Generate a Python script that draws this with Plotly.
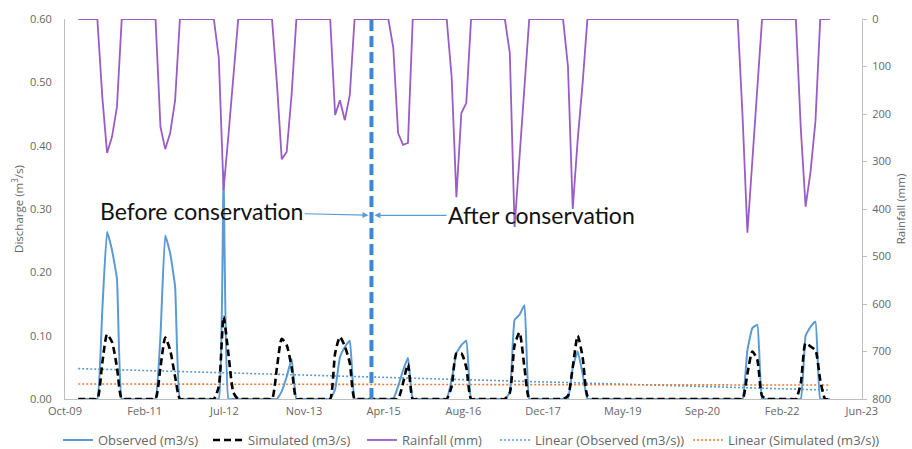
import pandas as pd
import plotly.graph_objects as go

# ---------------- data (monthly, Jan 2010 - Dec 2022) ----------------
months = pd.date_range("2010-01-01", periods=156, freq="MS")

# Rainfall (mm), one row per year Jan..Dec
rainfall_mm = (
    [0, 0, 0, 0, 0, 164, 282, 248, 185, 0, 0, 0] +   # 2010
    [0, 0, 0, 0, 0, 227, 274, 240, 171, 0, 0, 0] +   # 2011
    [0, 0, 0, 0, 0, 82, 360, 243, 117, 0, 0, 0] +    # 2012
    [0, 0, 0, 0, 0, 137, 295, 280, 159, 0, 0, 0] +   # 2013
    [0, 0, 0, 0, 0, 202, 171, 213, 160, 0, 0, 0] +   # 2014
    [0, 0, 0, 0, 0, 61, 240, 265, 261, 0, 0, 0] +    # 2015
    [0, 0, 0, 0, 0, 122, 375, 198, 177, 0, 0, 0] +   # 2016
    [0, 0, 0, 0, 0, 72, 438, 291, 146, 0, 0, 0] +    # 2017
    [0, 0, 0, 0, 0, 100, 400, 254, 135, 0, 0, 0] +   # 2018
    [0, 0, 0, 0, 0, 0, 0, 0, 0, 0, 0, 0] +           # 2019
    [0, 0, 0, 0, 0, 0, 0, 0, 0, 0, 0, 0] +           # 2020
    [0, 0, 0, 0, 0, 208, 450, 298, 138, 0, 0, 0] +   # 2021
    [0, 0, 0, 0, 0, 231, 395, 322, 215, 0, 0, 0]     # 2022
)

# Observed discharge (m3/s)
observed = (
    [0, 0, 0, 0, 0, 0.14, 0.264, 0.235, 0.19, 0, 0, 0] +      # 2010
    [0, 0, 0, 0, 0, 0.10, 0.258, 0.23, 0.177, 0, 0, 0] +      # 2011
    [0, 0, 0, 0, 0, 0, 0.36, 0, 0, 0, 0, 0] +                 # 2012
    [0, 0, 0, 0, 0, 0, 0.012, 0.035, 0.063, 0, 0, 0] +        # 2013
    [0, 0, 0, 0, 0, 0.015, 0.066, 0.082, 0.092, 0, 0, 0] +    # 2014
    [0, 0, 0, 0, 0, 0, 0.02, 0.045, 0.065, 0, 0, 0] +         # 2015
    [0, 0, 0, 0, 0, 0.03, 0.072, 0.085, 0.092, 0, 0, 0] +     # 2016
    [0, 0, 0, 0, 0, 0.01, 0.125, 0.133, 0.148, 0, 0, 0] +     # 2017
    [0, 0, 0, 0, 0, 0, 0.05, 0.075, 0.04, 0, 0, 0] +          # 2018
    [0, 0, 0, 0, 0, 0, 0, 0, 0, 0, 0, 0] +                    # 2019
    [0, 0, 0, 0, 0, 0, 0, 0, 0, 0, 0, 0] +                    # 2020
    [0, 0, 0, 0, 0, 0, 0.077, 0.112, 0.117, 0, 0, 0] +        # 2021
    [0, 0, 0, 0, 0, 0, 0.10, 0.114, 0.122, 0, 0, 0]           # 2022
)

# Simulated discharge (m3/s)
simulated = (
    [0, 0, 0, 0, 0, 0.057, 0.102, 0.09, 0.05, 0, 0, 0] +      # 2010
    [0, 0, 0, 0, 0, 0.05, 0.097, 0.077, 0.035, 0, 0, 0] +     # 2011
    [0, 0, 0, 0, 0, 0.02, 0.13, 0.07, 0.01, 0, 0, 0] +        # 2012
    [0, 0, 0, 0, 0, 0.05, 0.095, 0.085, 0.05, 0, 0, 0] +      # 2013
    [0, 0, 0, 0, 0, 0.072, 0.098, 0.083, 0.057, 0, 0, 0] +    # 2014
    [0, 0, 0, 0, 0, 0, 0, 0.025, 0.055, 0, 0, 0] +            # 2015
    [0, 0, 0, 0, 0, 0.02, 0.072, 0.072, 0.05, 0, 0, 0] +      # 2016
    [0, 0, 0, 0, 0, 0.01, 0.085, 0.105, 0.05, 0, 0, 0] +      # 2017
    [0, 0, 0, 0, 0, 0.005, 0.05, 0.1, 0.066, 0.005, 0, 0] +   # 2018
    [0, 0, 0, 0, 0, 0, 0, 0, 0, 0, 0, 0] +                    # 2019
    [0, 0, 0, 0, 0, 0, 0, 0, 0, 0, 0, 0] +                    # 2020
    [0, 0, 0, 0, 0, 0, 0.04, 0.075, 0.062, 0.005, 0, 0] +     # 2021
    [0, 0, 0, 0, 0, 0.025, 0.088, 0.083, 0.077, 0.03, 0, 0]   # 2022
)

# Linear trendlines (values at first and last month)
trend_dates = [months[0], months[-1]]
trend_observed = [0.048, 0.014]
trend_simulated = [0.0237, 0.022]

conservation_date = "2015-01-15"
x_range = ["2009-10-10", "2023-06-20"]
tick_start = "2009-10-10"
DAY_MS = 86400000

# ---------------- figure ----------------
GRAY = "#666666"
AXIS = "#BFBFBF"

fig = go.Figure()

fig.add_trace(go.Scatter(
    x=trend_dates, y=trend_observed, mode="lines",
    name="Linear (Observed (m3/s))", legend="legend4",
    line=dict(color="#5B9BD5", width=1.6, dash="2px,2px"),
))
fig.add_trace(go.Scatter(
    x=trend_dates, y=trend_simulated, mode="lines",
    name="Linear (Simulated (m3/s))", legend="legend5",
    line=dict(color="#ED7D31", width=1.6, dash="2px,2px"),
))
fig.add_trace(go.Scatter(
    x=months, y=observed, mode="lines", name="Observed (m3/s)", legend="legend",
    line=dict(color="#5B9BD5", width=2, shape="spline", smoothing=0.35),
))
fig.add_trace(go.Scatter(
    x=months, y=simulated, mode="lines", name="Simulated (m3/s)", legend="legend2",
    line=dict(color="#000000", width=2.6, dash="7px,4px", shape="spline", smoothing=0.6),
))
fig.add_trace(go.Scatter(
    x=months, y=rainfall_mm, mode="lines", name="Rainfall (mm)", legend="legend3",
    yaxis="y2", line=dict(color="#9A5CC6", width=1.8),
))

# conservation divider
fig.add_shape(type="line", xref="x", yref="paper",
              x0=conservation_date, x1=conservation_date, y0=0, y1=1,
              line=dict(color="#3A88D6", width=4, dash="11px,5px"))

ann_font = dict(family="Lato, 'Open Sans', sans-serif", size=23, color="#111111")
fig.add_annotation(x=conservation_date, y=0.29, xref="x", yref="y",
                   text="Before conservation", font=ann_font,
                   showarrow=True, ax=-170, ay=-4, arrowhead=2, arrowsize=1,
                   arrowwidth=1.2, arrowcolor="#5B9BD5", standoff=3)
fig.add_annotation(x=conservation_date, y=0.29, xref="x", yref="y",
                   text="After conservation", font=ann_font,
                   showarrow=True, ax=170, ay=0, arrowhead=2, arrowsize=1,
                   arrowwidth=1.2, arrowcolor="#5B9BD5", standoff=3)

tick_font = dict(family="'Open Sans', sans-serif", size=11, color=GRAY)
title_font = dict(family="'Open Sans', sans-serif", size=11.5, color=GRAY)
legend_font = dict(family="'Open Sans', sans-serif", size=13, color=GRAY)

PLOT_L, PLOT_R = 65, 862
def px_to_paper(px):
    return (px - PLOT_L) / (PLOT_R - PLOT_L)

legend_y = -0.108
legend_starts = [58, 208, 362, 495, 688]
legend_common = dict(orientation="h", y=legend_y, yanchor="middle", xanchor="left",
                     font=legend_font, bgcolor="rgba(0,0,0,0)")

fig.update_layout(
    width=912, height=449,
    margin=dict(l=65, r=50, t=19, b=50, autoexpand=False),
    paper_bgcolor="white", plot_bgcolor="white",
    xaxis=dict(
        type="date", range=x_range, tick0=tick_start, dtick=500 * DAY_MS,
        tickformat="%b-%y", showgrid=False, zeroline=False,
        showline=True, linecolor=AXIS, linewidth=1, ticks="",
        tickfont=tick_font, ticklabelstandoff=2,
    ),
    yaxis=dict(
        range=[0, 0.6], dtick=0.1, tickformat=".2f",
        showgrid=False, zeroline=False, showline=True, linecolor=AXIS,
        ticks="", tickfont=tick_font, ticklabelstandoff=10,
        title=dict(text="Discharge (m<sup>3</sup>/s)", font=title_font, standoff=4),
    ),
    yaxis2=dict(
        overlaying="y", side="right", range=[800, 0], dtick=100,
        showgrid=False, zeroline=False, showline=True, linecolor=AXIS,
        ticks="outside", ticklen=4, tickcolor=AXIS, tickfont=tick_font,
        ticklabelstandoff=3,
        title=dict(text="Rainfall (mm)", font=title_font, standoff=6),
    ),
    legend=dict(x=px_to_paper(legend_starts[0]), **legend_common),
    legend2=dict(x=px_to_paper(legend_starts[1]), **legend_common),
    legend3=dict(x=px_to_paper(legend_starts[2]), **legend_common),
    legend4=dict(x=px_to_paper(legend_starts[3]), **legend_common),
    legend5=dict(x=px_to_paper(legend_starts[4]), **legend_common),
    showlegend=True,
)

fig.write_html("out.html")
